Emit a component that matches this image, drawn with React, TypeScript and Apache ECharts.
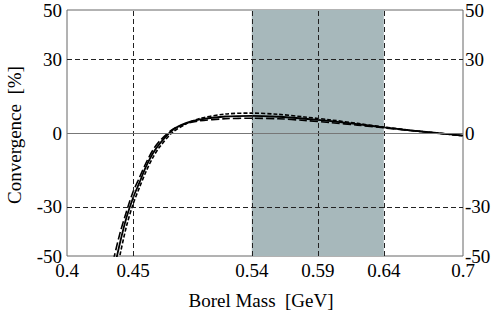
import React, { useEffect, useRef } from "react";
import * as echarts from "echarts";

const massX = [0.435, 0.44, 0.445, 0.45, 0.455, 0.46, 0.465, 0.47, 0.48, 0.49, 0.5, 0.52, 0.54, 0.56, 0.58, 0.6, 0.62, 0.64, 0.66, 0.68, 0.7];
const solidY = [-57, -45, -34.5, -26.4, -20, -13.5, -8.3, -4.5, 1.2, 4.0, 5.4, 6.7, 7.0, 6.6, 5.8, 4.8, 3.6, 2.3, 1.1, 0, -1.1];
const dashedAY = [-64, -50, -38, -29, -22, -15.5, -10, -5.8, 0.3, 3.6, 5.8, 7.7, 8.1, 7.6, 6.5, 5.3, 3.9, 2.4, 1.1, 0, -1.1];
const dashedBY = [-52, -41, -32, -24, -18, -12, -7, -3.4, 1.5, 3.8, 4.9, 5.8, 6.0, 5.8, 5.1, 4.2, 3.2, 2.1, 1.0, 0, -1.1];

const xTickLabels = [0.4, 0.45, 0.54, 0.59, 0.64, 0.7];
const yTickLabels = [-50, -30, 0, 30, 50];
const xGridLines = [0.45, 0.54, 0.59, 0.64];
const yGridLines = [-30, 30];
const bandRange = [0.54, 0.64];
const xName = "Borel Mass  [GeV]";
const yName = "Convergence  [%]";

const FONT = '19px "Liberation Serif"';
const GRID = { left: 67, right: 34, top: 10, bottom: 58 };
const W = 497;
const H = 314;

function pairs(ys: number[]) {
  return massX.map((x, i) => [x, ys[i]]);
}

export default function App() {
  const ref = useRef<HTMLDivElement>(null);
  const textRef = useRef<HTMLDivElement>(null);
  useEffect(() => {
    if (!ref.current || !textRef.current) return;
    const chart = echarts.init(ref.current, undefined, { renderer: "svg" });
    const dashStyle = { color: "#222", width: 1, type: [5, 3] };
    const yAxisCommon = {
      type: "value",
      min: -50,
      max: 50,
      interval: 10,
      axisLine: { show: false },
      axisTick: { show: false },
      splitLine: { show: false },
      axisLabel: { show: false },
    };
    chart.setOption({
      animation: false,
      grid: { ...GRID, show: true, borderColor: "#666", borderWidth: 1 },
      xAxis: {
        type: "value",
        min: 0.4,
        max: 0.7,
        interval: 0.01,
        axisLine: { show: false },
        axisTick: { show: false },
        splitLine: { show: false },
        axisLabel: { show: false },
      },
      yAxis: [
        { ...yAxisCommon, position: "left" },
        { ...yAxisCommon, position: "right" },
      ],
      series: [
        {
          type: "line",
          data: [],
          silent: true,
          markArea: {
            silent: true,
            label: { show: false },
            itemStyle: { color: "#a7b8bb" },
            data: [[{ xAxis: bandRange[0] }, { xAxis: bandRange[1] }]],
          },
          markLine: {
            silent: true,
            symbol: ["none", "none"],
            label: { show: false },
            data: [
              ...xGridLines.map((x) => ({ xAxis: x, lineStyle: dashStyle })),
              ...yGridLines.map((y) => ({ yAxis: y, lineStyle: dashStyle })),
              { yAxis: 0, lineStyle: { color: "#777", width: 1, type: "solid" } },
            ],
          },
        },
        {
          type: "line",
          data: pairs(dashedAY),
          smooth: 0.3,
          showSymbol: false,
          lineStyle: { color: "#000", width: 1.6, type: [4, 2] },
          z: 3,
        },
        {
          type: "line",
          data: pairs(dashedBY),
          smooth: 0.3,
          showSymbol: false,
          lineStyle: { color: "#000", width: 1.6, type: [8, 3] },
          z: 3,
        },
        {
          type: "line",
          data: pairs(solidY),
          smooth: 0.3,
          showSymbol: false,
          lineStyle: { color: "#000", width: 1.8 },
          z: 4,
        },
      ],
    });

    const bottomY = H - GRID.bottom;
    const leftX = GRID.left;
    const rightX = W - GRID.right;
    const texts: any[] = [];
    xTickLabels.forEach((v) => {
      const px = chart.convertToPixel({ xAxisIndex: 0 }, v) as number;
      texts.push({
        type: "text",
        x: px,
        y: bottomY + 5,
        style: { text: String(v), font: FONT, fill: "#000", align: "center", verticalAlign: "top" },
      });
    });
    yTickLabels.forEach((v) => {
      const py = chart.convertToPixel({ yAxisIndex: 0 }, v) as number;
      texts.push({
        type: "text",
        x: leftX - 5,
        y: py,
        style: { text: String(v), font: FONT, fill: "#000", align: "right", verticalAlign: "middle" },
      });
      texts.push({
        type: "text",
        x: rightX + 2,
        y: py,
        style: { text: String(v), font: FONT, fill: "#000", align: "left", verticalAlign: "middle" },
      });
    });
    texts.push({
      type: "text",
      x: (leftX + rightX) / 2 - 4,
      y: bottomY + 35,
      style: { text: xName, font: FONT, fill: "#000", align: "center", verticalAlign: "top" },
    });
    texts.push({
      type: "text",
      x: 14,
      y: (GRID.top + bottomY) / 2 + 2,
      rotation: Math.PI / 2,
      style: { text: yName, font: FONT, fill: "#000", align: "center", verticalAlign: "middle" },
    });

    const textChart = echarts.init(textRef.current, undefined, { renderer: "svg" });
    textChart.setOption({ animation: false, graphic: texts });
    return () => {
      textChart.dispose();
      chart.dispose();
    };
  }, []);
  return (
    <div style={{ position: "absolute", left: 0, top: 0, width: W, height: H }}>
      <div ref={ref} style={{ width: W, height: H, position: "absolute", left: 0, top: 0 }} />
      <div ref={textRef} style={{ width: W, height: H, position: "absolute", left: 0, top: 0, pointerEvents: "none" }} />
    </div>
  );
}
